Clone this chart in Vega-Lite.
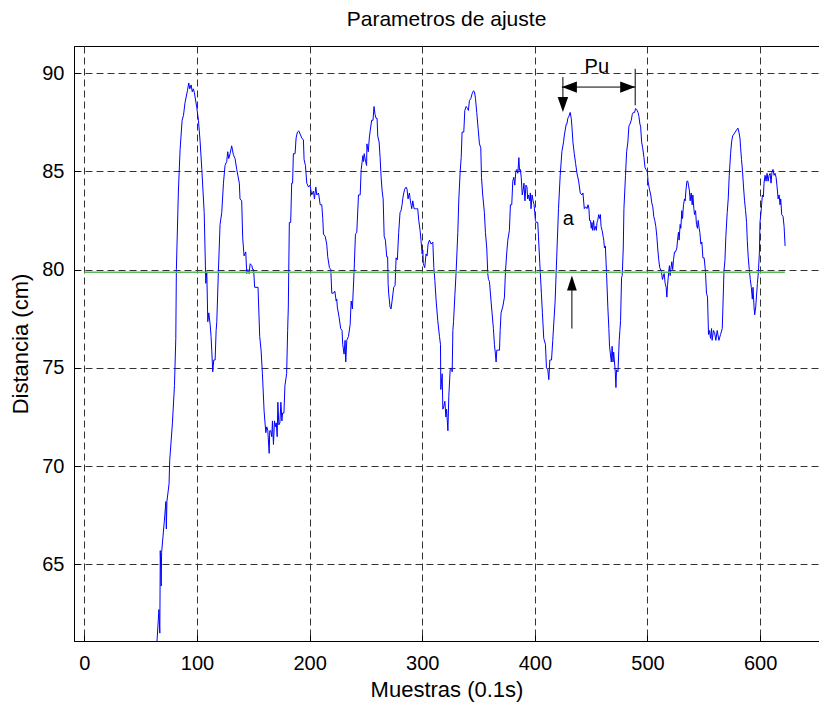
{
  "$schema": "https://vega.github.io/schema/vega-lite/v6.json",
  "width": 745,
  "height": 595,
  "autosize": {"type": "none"},
  "padding": {"left": 74, "top": 46, "right": 0, "bottom": 63},
  "title": {"text": "Parametros de ajuste", "fontSize": 21, "font": "Liberation Sans", "fontWeight": "normal", "color": "black", "offset": 16, "anchor": "middle"},
  "config": {"view": {"stroke": "black", "strokeWidth": 1}, "font": "Liberation Sans"},
  "datasets": {
    "signal": [
      {"x":64.5,"y":61.1},{"x":66.2,"y":62.7},{"x":67.0,"y":61.5},{"x":67.4,"y":65.7},{"x":68.2,"y":63.9},{"x":68.6,"y":65.6},{"x":71.0,"y":67.2},{"x":72.4,"y":68.2},{"x":72.8,"y":66.8},{"x":73.3,"y":68.2},{"x":75.2,"y":69.1},{"x":75.8,"y":70.3},{"x":78.2,"y":72.2},{"x":80.0,"y":74.1},{"x":81.2,"y":76.5},{"x":81.7,"y":80.0},{"x":83.5,"y":84.0},{"x":85.0,"y":86.1},{"x":86.8,"y":87.6},{"x":88.0,"y":87.85},{"x":89.4,"y":88.5},{"x":91.5,"y":89.1},{"x":92.7,"y":89.5},{"x":93.6,"y":89.2},{"x":94.8,"y":89.4},{"x":95.8,"y":89.05},{"x":96.8,"y":89.2},{"x":97.7,"y":89.0},{"x":99.8,"y":88.26},{"x":101.3,"y":87.6},{"x":102.8,"y":86.5},{"x":104.3,"y":85.1},{"x":106.4,"y":82.9},{"x":107.2,"y":80.9},{"x":107.8,"y":79.3},{"x":108.7,"y":79.9},{"x":109.6,"y":77.35},{"x":110.5,"y":77.8},{"x":111.7,"y":77.2},{"x":112.5,"y":76.6},{"x":113.1,"y":75.9},{"x":114.0,"y":74.8},{"x":114.9,"y":75.4},{"x":116.1,"y":75.4},{"x":117.0,"y":76.9},{"x":117.6,"y":77.35},{"x":119.0,"y":79.9},{"x":120.5,"y":82.3},{"x":122.0,"y":82.9},{"x":123.5,"y":84.4},{"x":124.9,"y":85.3},{"x":126.4,"y":85.5},{"x":127.3,"y":86.0},{"x":128.2,"y":85.65},{"x":129.4,"y":85.9},{"x":130.8,"y":86.3},{"x":132.3,"y":85.85},{"x":133.8,"y":85.65},{"x":135.3,"y":85.1},{"x":137.6,"y":84.4},{"x":138.2,"y":83.6},{"x":139.7,"y":83.5},{"x":140.6,"y":81.6},{"x":141.8,"y":80.7},{"x":143.3,"y":80.9},{"x":144.2,"y":79.8},{"x":145.2,"y":80.0},{"x":146.3,"y":79.8},{"x":147.2,"y":80.3},{"x":148.7,"y":80.2},{"x":149.5,"y":80.0},{"x":150.3,"y":80.0},{"x":151.2,"y":79.1},{"x":154.2,"y":79.1},{"x":155.7,"y":76.6},{"x":156.9,"y":75.9},{"x":158.1,"y":74.7},{"x":159.6,"y":72.8},{"x":161.1,"y":71.7},{"x":162.0,"y":72.0},{"x":162.9,"y":71.8},{"x":164.1,"y":70.65},{"x":164.6,"y":71.8},{"x":165.5,"y":71.8},{"x":166.4,"y":71.5},{"x":167.0,"y":72.3},{"x":167.9,"y":71.1},{"x":168.8,"y":72.3},{"x":169.7,"y":72.0},{"x":170.4,"y":72.2},{"x":171.2,"y":71.5},{"x":171.8,"y":73.25},{"x":172.7,"y":72.1},{"x":173.6,"y":72.2},{"x":174.5,"y":73.25},{"x":175.4,"y":72.3},{"x":176.0,"y":72.7},{"x":177.2,"y":72.7},{"x":178.1,"y":74.1},{"x":179.6,"y":74.7},{"x":180.5,"y":76.9},{"x":181.1,"y":78.1},{"x":182.0,"y":82.4},{"x":183.2,"y":82.4},{"x":184.1,"y":84.4},{"x":184.9,"y":84.4},{"x":185.6,"y":85.9},{"x":187.1,"y":85.9},{"x":188.0,"y":86.7},{"x":189.2,"y":87.0},{"x":190.4,"y":87.06},{"x":191.6,"y":86.9},{"x":193.0,"y":86.7},{"x":194.5,"y":86.6},{"x":195.1,"y":85.6},{"x":196.3,"y":85.3},{"x":197.5,"y":84.4},{"x":199.0,"y":84.2},{"x":200.4,"y":84.3},{"x":201.9,"y":83.8},{"x":203.4,"y":84.0},{"x":204.3,"y":83.6},{"x":205.5,"y":84.2},{"x":206.4,"y":83.8},{"x":207.9,"y":83.9},{"x":209.4,"y":83.3},{"x":210.8,"y":83.3},{"x":211.7,"y":82.6},{"x":212.3,"y":81.8},{"x":213.8,"y":81.7},{"x":215.2,"y":81.3},{"x":216.1,"y":80.65},{"x":217.6,"y":80.1},{"x":218.8,"y":80.0},{"x":219.7,"y":78.8},{"x":221.2,"y":78.8},{"x":222.4,"y":78.9},{"x":223.6,"y":78.4},{"x":224.1,"y":78.5},{"x":224.6,"y":78.1},{"x":226.1,"y":77.6},{"x":227.6,"y":77.0},{"x":228.8,"y":76.9},{"x":229.4,"y":76.2},{"x":230.6,"y":75.7},{"x":231.5,"y":76.4},{"x":232.1,"y":75.3},{"x":233.0,"y":76.4},{"x":234.5,"y":76.6},{"x":236.0,"y":77.2},{"x":236.9,"y":78.4},{"x":238.0,"y":78.0},{"x":239.5,"y":79.9},{"x":240.7,"y":81.8},{"x":241.9,"y":81.9},{"x":243.4,"y":83.8},{"x":244.9,"y":83.8},{"x":245.8,"y":85.1},{"x":247.3,"y":85.8},{"x":247.9,"y":85.5},{"x":248.5,"y":85.9},{"x":249.7,"y":85.5},{"x":250.6,"y":85.3},{"x":250.9,"y":86.4},{"x":252.1,"y":86.0},{"x":253.0,"y":86.7},{"x":253.9,"y":87.1},{"x":255.1,"y":87.6},{"x":256.3,"y":87.6},{"x":257.2,"y":88.3},{"x":258.1,"y":87.9},{"x":259.0,"y":87.7},{"x":259.9,"y":87.7},{"x":260.5,"y":86.8},{"x":261.7,"y":86.5},{"x":262.6,"y":85.7},{"x":263.5,"y":84.7},{"x":264.4,"y":84.0},{"x":265.3,"y":83.6},{"x":266.2,"y":81.7},{"x":267.3,"y":81.5},{"x":268.5,"y":80.65},{"x":269.3,"y":80.65},{"x":269.7,"y":79.3},{"x":270.2,"y":78.8},{"x":271.4,"y":78.1},{"x":272.3,"y":78.0},{"x":273.2,"y":78.4},{"x":274.7,"y":79.1},{"x":275.9,"y":79.2},{"x":276.8,"y":80.6},{"x":277.9,"y":80.5},{"x":279.1,"y":81.9},{"x":280.3,"y":82.9},{"x":281.2,"y":83.0},{"x":282.1,"y":83.3},{"x":282.7,"y":83.6},{"x":283.6,"y":83.9},{"x":284.5,"y":84.1},{"x":285.7,"y":84.2},{"x":286.5,"y":84.1},{"x":287.4,"y":83.6},{"x":288.6,"y":83.9},{"x":289.5,"y":83.5},{"x":290.7,"y":83.1},{"x":291.6,"y":83.5},{"x":292.8,"y":83.1},{"x":293.9,"y":83.1},{"x":295.0,"y":83.1},{"x":296.0,"y":83.1},{"x":296.9,"y":82.5},{"x":298.1,"y":82.0},{"x":298.9,"y":81.5},{"x":299.9,"y":80.8},{"x":300.5,"y":81.0},{"x":301.0,"y":80.3},{"x":302.2,"y":80.1},{"x":303.4,"y":80.8},{"x":304.3,"y":80.7},{"x":305.2,"y":81.3},{"x":306.4,"y":81.5},{"x":307.9,"y":81.3},{"x":309.4,"y":81.4},{"x":310.3,"y":80.1},{"x":311.2,"y":79.45},{"x":312.3,"y":78.45},{"x":313.8,"y":77.4},{"x":315.3,"y":76.6},{"x":316.2,"y":76.2},{"x":316.5,"y":73.9},{"x":317.7,"y":74.7},{"x":318.3,"y":72.9},{"x":319.2,"y":73.05},{"x":320.1,"y":73.3},{"x":321.0,"y":72.5},{"x":321.6,"y":72.9},{"x":322.8,"y":71.8},{"x":323.6,"y":73.55},{"x":324.8,"y":74.9},{"x":326.0,"y":75.0},{"x":326.6,"y":74.8},{"x":327.2,"y":76.9},{"x":327.8,"y":77.35},{"x":329.0,"y":78.7},{"x":330.1,"y":79.9},{"x":331.6,"y":81.9},{"x":332.5,"y":83.6},{"x":333.7,"y":85.0},{"x":334.6,"y":85.7},{"x":335.4,"y":87.0},{"x":336.9,"y":87.0},{"x":337.8,"y":88.1},{"x":339.0,"y":88.3},{"x":340.2,"y":88.2},{"x":341.0,"y":88.1},{"x":341.9,"y":88.6},{"x":343.1,"y":88.7},{"x":344.3,"y":88.95},{"x":345.5,"y":89.1},{"x":346.4,"y":89.05},{"x":347.3,"y":88.7},{"x":348.4,"y":88.0},{"x":349.6,"y":87.2},{"x":350.8,"y":86.4},{"x":352.0,"y":86.2},{"x":352.6,"y":84.7},{"x":353.7,"y":83.8},{"x":355.2,"y":82.9},{"x":356.1,"y":81.9},{"x":357.3,"y":81.1},{"x":358.2,"y":79.8},{"x":358.8,"y":79.5},{"x":359.7,"y":79.4},{"x":361.1,"y":78.4},{"x":362.0,"y":77.8},{"x":363.2,"y":77.0},{"x":364.1,"y":76.2},{"x":365.0,"y":75.7},{"x":365.6,"y":75.3},{"x":366.2,"y":75.9},{"x":368.6,"y":75.9},{"x":369.2,"y":76.9},{"x":370.0,"y":77.8},{"x":371.5,"y":78.1},{"x":373.0,"y":78.6},{"x":373.9,"y":79.9},{"x":375.1,"y":80.9},{"x":376.0,"y":81.5},{"x":377.4,"y":82.0},{"x":378.3,"y":83.3},{"x":379.5,"y":83.3},{"x":380.4,"y":84.5},{"x":381.3,"y":84.7},{"x":382.2,"y":84.3},{"x":383.1,"y":85.0},{"x":384.0,"y":85.1},{"x":384.9,"y":84.9},{"x":385.8,"y":85.7},{"x":386.4,"y":85.05},{"x":387.1,"y":85.1},{"x":387.9,"y":84.7},{"x":388.8,"y":83.8},{"x":389.7,"y":84.1},{"x":390.3,"y":84.4},{"x":391.2,"y":83.5},{"x":392.1,"y":84.3},{"x":393.0,"y":84.2},{"x":393.6,"y":83.6},{"x":394.5,"y":83.8},{"x":395.3,"y":83.5},{"x":396.0,"y":83.9},{"x":396.6,"y":83.1},{"x":397.5,"y":83.8},{"x":398.4,"y":83.5},{"x":399.3,"y":83.3},{"x":399.9,"y":82.9},{"x":400.5,"y":82.5},{"x":401.4,"y":82.4},{"x":402.6,"y":82.4},{"x":403.2,"y":81.7},{"x":404.4,"y":80.3},{"x":405.8,"y":78.8},{"x":406.7,"y":77.8},{"x":407.9,"y":76.5},{"x":409.4,"y":76.2},{"x":410.3,"y":75.0},{"x":411.5,"y":74.9},{"x":412.4,"y":74.4},{"x":413.3,"y":75.4},{"x":414.8,"y":75.4},{"x":415.9,"y":76.4},{"x":418.0,"y":78.4},{"x":419.4,"y":80.6},{"x":421.0,"y":83.1},{"x":422.5,"y":84.8},{"x":424.0,"y":86.0},{"x":425.5,"y":86.5},{"x":426.1,"y":86.8},{"x":427.8,"y":87.4},{"x":428.4,"y":87.4},{"x":429.3,"y":87.7},{"x":430.2,"y":87.8},{"x":431.4,"y":88.0},{"x":432.3,"y":87.7},{"x":432.9,"y":87.3},{"x":433.8,"y":86.5},{"x":435.0,"y":85.9},{"x":436.2,"y":85.4},{"x":437.4,"y":84.9},{"x":438.9,"y":84.5},{"x":440.3,"y":83.9},{"x":441.8,"y":83.8},{"x":442.7,"y":83.9},{"x":443.9,"y":83.1},{"x":445.1,"y":83.2},{"x":446.3,"y":83.1},{"x":447.2,"y":83.3},{"x":448.0,"y":83.1},{"x":448.6,"y":82.5},{"x":449.4,"y":82.5},{"x":450.1,"y":82.1},{"x":450.7,"y":82.4},{"x":451.3,"y":82.0},{"x":452.2,"y":82.5},{"x":452.8,"y":82.0},{"x":453.7,"y":82.2},{"x":454.6,"y":82.0},{"x":455.2,"y":82.4},{"x":455.8,"y":82.5},{"x":456.7,"y":82.8},{"x":457.6,"y":82.6},{"x":458.2,"y":82.8},{"x":458.8,"y":82.2},{"x":459.7,"y":82.0},{"x":460.6,"y":81.7},{"x":461.2,"y":81.5},{"x":461.8,"y":81.1},{"x":462.6,"y":81.2},{"x":463.6,"y":79.9},{"x":464.8,"y":78.1},{"x":465.7,"y":77.0},{"x":466.3,"y":76.1},{"x":467.9,"y":75.3},{"x":468.6,"y":76.1},{"x":469.4,"y":75.3},{"x":470.0,"y":75.8},{"x":471.4,"y":74.8},{"x":472.0,"y":74.0},{"x":472.5,"y":74.9},{"x":473.8,"y":74.8},{"x":474.9,"y":76.4},{"x":475.5,"y":76.9},{"x":476.1,"y":77.4},{"x":477.0,"y":79.6},{"x":477.6,"y":79.7},{"x":478.5,"y":81.1},{"x":479.1,"y":83.1},{"x":480.5,"y":84.8},{"x":481.5,"y":86.0},{"x":482.6,"y":86.5},{"x":483.5,"y":87.3},{"x":484.4,"y":87.4},{"x":485.6,"y":87.6},{"x":486.5,"y":87.9},{"x":487.4,"y":88.0},{"x":488.6,"y":88.0},{"x":489.4,"y":88.2},{"x":490.4,"y":88.15},{"x":491.6,"y":88.0},{"x":492.4,"y":87.8},{"x":493.3,"y":87.4},{"x":493.9,"y":87.3},{"x":494.8,"y":86.5},{"x":495.7,"y":86.2},{"x":496.9,"y":85.7},{"x":497.8,"y":85.2},{"x":498.7,"y":85.1},{"x":499.9,"y":85.0},{"x":500.5,"y":84.5},{"x":501.7,"y":84.1},{"x":502.9,"y":83.8},{"x":503.8,"y":83.4},{"x":504.7,"y":83.2},{"x":505.6,"y":82.7},{"x":506.5,"y":82.5},{"x":507.4,"y":82.2},{"x":508.3,"y":81.7},{"x":509.2,"y":81.0},{"x":510.0,"y":80.5},{"x":510.9,"y":80.1},{"x":512.4,"y":79.9},{"x":513.3,"y":79.5},{"x":514.8,"y":79.8},{"x":515.7,"y":79.3},{"x":516.6,"y":79.1},{"x":517.2,"y":78.6},{"x":517.8,"y":79.2},{"x":518.9,"y":79.9},{"x":519.5,"y":80.2},{"x":520.1,"y":79.7},{"x":520.7,"y":80.0},{"x":521.6,"y":80.4},{"x":522.4,"y":80.0},{"x":523.1,"y":80.5},{"x":524.0,"y":80.9},{"x":524.9,"y":80.9},{"x":526.1,"y":81.1},{"x":526.7,"y":81.5},{"x":527.5,"y":81.9},{"x":528.1,"y":81.5},{"x":529.0,"y":82.3},{"x":529.6,"y":82.1},{"x":530.5,"y":83.0},{"x":531.1,"y":82.6},{"x":532.0,"y":83.3},{"x":532.9,"y":83.6},{"x":533.5,"y":83.5},{"x":534.1,"y":84.0},{"x":535.0,"y":84.5},{"x":535.8,"y":84.5},{"x":536.4,"y":84.3},{"x":537.3,"y":84.0},{"x":537.9,"y":83.5},{"x":538.8,"y":83.9},{"x":539.7,"y":83.3},{"x":540.3,"y":83.8},{"x":541.2,"y":83.1},{"x":541.8,"y":82.8},{"x":542.7,"y":83.0},{"x":543.5,"y":82.3},{"x":544.4,"y":82.1},{"x":545.0,"y":82.5},{"x":545.9,"y":82.1},{"x":546.5,"y":81.9},{"x":547.4,"y":81.3},{"x":548.3,"y":81.4},{"x":549.2,"y":80.6},{"x":550.3,"y":80.6},{"x":551.5,"y":79.9},{"x":552.4,"y":78.8},{"x":553.3,"y":78.6},{"x":554.2,"y":76.7},{"x":555.1,"y":76.9},{"x":556.0,"y":76.5},{"x":556.9,"y":77.0},{"x":557.4,"y":76.4},{"x":558.6,"y":76.9},{"x":559.6,"y":76.8},{"x":560.7,"y":76.4},{"x":561.9,"y":76.9},{"x":563.4,"y":76.4},{"x":564.9,"y":76.7},{"x":566.4,"y":77.0},{"x":567.0,"y":78.1},{"x":567.9,"y":79.9},{"x":568.8,"y":80.5},{"x":569.6,"y":81.7},{"x":570.8,"y":82.9},{"x":571.7,"y":83.6},{"x":572.6,"y":84.8},{"x":573.8,"y":85.9},{"x":574.7,"y":86.5},{"x":575.6,"y":86.8},{"x":576.8,"y":86.9},{"x":577.9,"y":87.0},{"x":579.1,"y":87.1},{"x":580.3,"y":87.2},{"x":581.2,"y":87.0},{"x":582.1,"y":86.7},{"x":582.7,"y":86.2},{"x":583.5,"y":85.6},{"x":584.4,"y":85.0},{"x":585.3,"y":84.2},{"x":586.2,"y":83.5},{"x":587.1,"y":83.0},{"x":588.0,"y":82.4},{"x":588.6,"y":81.5},{"x":589.5,"y":80.6},{"x":590.4,"y":80.0},{"x":591.3,"y":79.5},{"x":592.2,"y":79.1},{"x":593.1,"y":78.5},{"x":593.7,"y":79.1},{"x":594.6,"y":78.1},{"x":595.2,"y":77.7},{"x":596.1,"y":78.1},{"x":597.6,"y":79.3},{"x":598.5,"y":79.9},{"x":599.4,"y":80.9},{"x":599.9,"y":82.4},{"x":601.1,"y":83.1},{"x":602.0,"y":83.8},{"x":602.9,"y":83.7},{"x":603.5,"y":84.4},{"x":604.4,"y":84.8},{"x":605.3,"y":84.5},{"x":606.2,"y":84.9},{"x":607.1,"y":84.5},{"x":608.0,"y":84.8},{"x":608.9,"y":84.9},{"x":609.7,"y":84.4},{"x":610.6,"y":85.0},{"x":611.5,"y":85.1},{"x":612.4,"y":84.8},{"x":613.3,"y":84.9},{"x":614.2,"y":84.7},{"x":615.1,"y":84.2},{"x":616.0,"y":83.6},{"x":616.9,"y":83.8},{"x":617.7,"y":83.3},{"x":618.3,"y":83.6},{"x":619.2,"y":82.8},{"x":620.4,"y":82.7},{"x":621.3,"y":82.2},{"x":622.2,"y":81.2}
    ],
    "ref": [{"x": 0, "y": 79.87}, {"x": 622, "y": 79.87}],
    "rules": [
      {"x": 424.0, "x2": 489.1, "y": 89.29, "y2": 89.29},
      {"x": 489.1, "x2": 489.1, "y": 90.22, "y2": 88.36},
      {"x": 424.9, "x2": 424.9, "y": 89.8, "y2": 88.5},
      {"x": 432.9, "x2": 432.9, "y": 77.0, "y2": 79.2}
    ],
    "heads": [
      {"x": 424.0, "y": 89.29, "dir": "left"},
      {"x": 489.1, "y": 89.29, "dir": "right"},
      {"x": 424.9, "y": 88.02, "dir": "down"},
      {"x": 432.9, "y": 79.7, "dir": "up"}
    ],
    "labels": [
      {"x": 455.0, "y": 90.3, "text": "Pu"},
      {"x": 429.8, "y": 82.59, "text": "a"}
    ]
  },
  "layer": [
    {
      "data": {"name": "signal"},
      "mark": {"type": "line", "color": "#0000ff", "strokeWidth": 1, "clip": true},
      "encoding": {
        "x": {"field": "x", "type": "quantitative",
          "scale": {"domain": [-9.2, 652.3], "nice": false, "zero": false},
          "axis": {"values": [0, 100, 200, 300, 400, 500, 600], "title": "Muestras (0.1s)", "grid": true, "gridDash": [7, 4], "gridColor": "#333333", "gridOpacity": 1, "domainColor": "black", "tickColor": "black", "tickSize": -6, "labelFontSize": 20, "labelColor": "black", "labelPadding": 18, "labelFont": "Liberation Sans", "titleFont": "Liberation Sans", "titleFontSize": 22, "titleFontWeight": "normal", "titleColor": "black", "titlePadding": 6}},
        "y": {"field": "y", "type": "quantitative",
          "scale": {"domain": [61.1, 91.38], "nice": false, "zero": false},
          "axis": {"values": [65, 70, 75, 80, 85, 90], "title": "Distancia (cm)", "grid": true, "gridDash": [7, 4], "gridColor": "#333333", "gridOpacity": 1, "domainColor": "black", "tickColor": "black", "tickSize": -6, "labelFontSize": 20, "labelColor": "black", "labelPadding": 16, "labelFont": "Liberation Sans", "titleFont": "Liberation Sans", "titleFontSize": 22, "titleFontWeight": "normal", "titleColor": "black", "titlePadding": 9}}
      }
    },
    {
      "data": {"name": "ref"},
      "mark": {"type": "line", "color": "#5cb85c", "strokeWidth": 1.5},
      "encoding": {"x": {"field": "x", "type": "quantitative"}, "y": {"field": "y", "type": "quantitative"}}
    },
    {
      "data": {"name": "rules"},
      "mark": {"type": "rule", "color": "black", "strokeWidth": 1},
      "encoding": {"x": {"field": "x", "type": "quantitative"}, "x2": {"field": "x2"}, "y": {"field": "y", "type": "quantitative"}, "y2": {"field": "y2"}}
    },
    {
      "data": {"name": "heads"},
      "mark": {"type": "point", "filled": true, "color": "black", "opacity": 1, "size": 225, "strokeWidth": 0},
      "encoding": {
        "x": {"field": "x", "type": "quantitative"},
        "y": {"field": "y", "type": "quantitative"},
        "shape": {"field": "dir", "type": "nominal", "legend": null,
          "scale": {"domain": ["left", "right", "down", "up"],
            "range": ["M 0 0 L 2 -0.75 L 2 0.75 Z", "M 0 0 L -2 -0.75 L -2 0.75 Z", "M 0 0 L -0.7 -2 L 0.7 -2 Z", "M 0 0 L -0.65 2 L 0.65 2 Z"]}}
      }
    },
    {
      "data": {"name": "labels"},
      "mark": {"type": "text", "fontSize": 20, "font": "Liberation Sans", "color": "black", "align": "center", "baseline": "middle"},
      "encoding": {"x": {"field": "x", "type": "quantitative"}, "y": {"field": "y", "type": "quantitative"}, "text": {"field": "text"}}
    }
  ]
}
